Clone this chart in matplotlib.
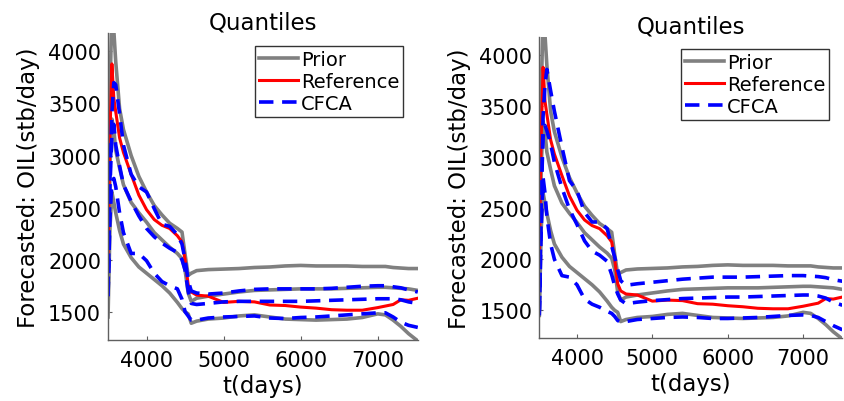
# Quantile forecasts of oil rate: prior, reference and CFCA

import matplotlib
matplotlib.use("Agg")
import matplotlib.pyplot as plt

t = [3500, 3525, 3550, 3575, 3600, 3650, 3700, 3800, 3900, 4000,
     4100, 4200, 4300, 4400, 4460, 4500, 4540, 4580, 4650, 4800,
     5000, 5200, 5400, 5600, 5800, 6000, 6200, 6400, 6600, 6800,
     7000, 7100, 7200, 7300, 7400, 7520]

prior_p90 = [1800, 3600, 4400, 4200, 3900, 3450, 3250, 3000, 2800, 2650,
             2520, 2430, 2350, 2300, 2265, 2050, 1850, 1870, 1895, 1905,
             1910, 1915, 1925, 1930, 1940, 1945, 1940, 1940, 1940, 1935,
             1935, 1935, 1925, 1920, 1915, 1915]
prior_p50 = [1600, 2900, 3350, 3250, 3050, 2880, 2720, 2550, 2450, 2360,
             2260, 2190, 2120, 2060, 2010, 1900, 1680, 1600, 1630, 1650,
             1670, 1690, 1705, 1710, 1715, 1720, 1720, 1720, 1725, 1730,
             1735, 1735, 1730, 1725, 1720, 1705]
prior_p10 = [1450, 2300, 2650, 2550, 2450, 2280, 2150, 2020, 1930, 1870,
             1810, 1750, 1680, 1590, 1530, 1500, 1480, 1390, 1410, 1430,
             1440, 1460, 1470, 1450, 1430, 1425, 1420, 1425, 1430, 1445,
             1480, 1470, 1420, 1360, 1290, 1220]

reference = [2000, 3200, 3880, 3550, 3420, 3170, 3030, 2820, 2620, 2480,
             2385, 2330, 2300, 2230, 2170, 2000, 1760, 1690, 1660, 1650,
             1590, 1600, 1595, 1565, 1560, 1545, 1535, 1520, 1515, 1515,
             1540, 1555, 1570, 1615, 1610, 1630]

cfca_left_hi = [1650, 2800, 3400, 3700, 3680, 3400, 3100, 2820, 2700, 2650,
                2490, 2340, 2320, 2240, 2150, 2000, 1800, 1700, 1680, 1670,
                1680, 1700, 1715, 1720, 1720, 1720, 1720, 1725, 1735, 1745,
                1750, 1750, 1740, 1730, 1710, 1690]
cfca_left_mid = [1700, 2700, 3200, 3300, 3100, 2900, 2720, 2560, 2420, 2300,
                 2220, 2160, 2110, 2070, 2000, 1900, 1700, 1580, 1570, 1580,
                 1595, 1600, 1600, 1600, 1600, 1600, 1605, 1610, 1615, 1620,
                 1625, 1625, 1625, 1615, 1595, 1580]
cfca_left_lo = [1650, 2400, 2750, 2780, 2700, 2450, 2260, 2060, 2060, 1990,
                1870, 1790, 1750, 1720, 1620, 1500, 1460, 1420, 1420, 1440,
                1450, 1455, 1460, 1440, 1435, 1445, 1450, 1460, 1470, 1480,
                1490, 1490, 1450, 1400, 1370, 1350]

cfca_right_hi = [1500, 2600, 3400, 3700, 3860, 3650, 3450, 3100, 2770, 2670,
                 2460, 2365, 2365, 2300, 2130, 2020, 1900, 1790, 1745, 1760,
                 1775, 1790, 1805, 1815, 1825, 1825, 1825, 1830, 1835, 1840,
                 1840, 1835, 1830, 1820, 1800, 1785]
cfca_right_mid = [1500, 2600, 3200, 3310, 3260, 3130, 2950, 2700, 2490, 2340,
                  2180, 2080, 2040, 1980, 1850, 1740, 1660, 1600, 1565, 1580,
                  1595, 1605, 1615, 1620, 1625, 1630, 1630, 1635, 1640, 1645,
                  1650, 1650, 1640, 1620, 1580, 1550]
cfca_right_lo = [1450, 2300, 2800, 2650, 2420, 2150, 2000, 1840, 1825, 1750,
                 1610, 1560, 1530, 1490, 1470, 1440, 1400, 1385, 1390, 1410,
                 1420, 1430, 1435, 1430, 1420, 1420, 1425, 1430, 1440, 1450,
                 1455, 1450, 1430, 1390, 1350, 1310]

xticks = [4000, 5000, 6000, 7000]
yticks = [1500, 2000, 2500, 3000, 3500, 4000]

GRAY = "#808080"
RED = "#ff0000"
BLUE = "#0000ff"
AXIS = "#606060"


def draw_panel(ax, cfca):
    for i, q in enumerate([prior_p90, prior_p50, prior_p10]):
        ax.plot(t, q, c=GRAY, lw=2.6, label="Prior" if i == 0 else None)
    ax.plot(t, reference, c=RED, lw=2.2, label="Reference")
    for i, q in enumerate(cfca):
        ax.plot(t, q, c=BLUE, lw=2.6, ls=(0, (4, 2.4)),
                label="CFCA" if i == 0 else None)

    ax.set_xlim(3500, 7520)
    ax.set_ylim(1230, 4175)
    ax.set_xticks(xticks)
    ax.set_yticks(yticks)
    ax.set_title("Quantiles", fontsize=16.5, pad=2)
    ax.set_xlabel("t(days)", fontsize=16.5, labelpad=3)
    ax.set_ylabel("Forecasted: OIL(stb/day)", fontsize=16.5, labelpad=6)
    ax.tick_params(direction="in", length=3, labelsize=15, color=AXIS)
    ax.tick_params(axis="x", pad=7)
    ax.tick_params(axis="y", pad=5)
    for side in ["top", "right"]:
        ax.spines[side].set_visible(False)
    for side in ["left", "bottom"]:
        ax.spines[side].set_color(AXIS)
        ax.spines[side].set_linewidth(1.0)


def main():
    fig = plt.figure(figsize=(8.44, 4.02), dpi=100)
    ax1 = fig.add_axes([0.128, 0.152, 0.367, 0.763])
    ax2 = fig.add_axes([0.639, 0.157, 0.359, 0.748])

    draw_panel(ax1, [cfca_left_hi, cfca_left_mid, cfca_left_lo])
    draw_panel(ax2, [cfca_right_hi, cfca_right_mid, cfca_right_lo])

    for ax, anchor in [(ax1, (0.952, 0.958)), (ax2, (0.957, 0.96))]:
        leg = ax.legend(loc="upper right", bbox_to_anchor=anchor,
                        borderaxespad=0, fontsize=14, handlelength=2.0,
                        handletextpad=0.15, labelspacing=0.15,
                        borderpad=0.2, fancybox=False, framealpha=1)
        leg.get_frame().set_edgecolor("#333333")
        leg.get_frame().set_linewidth(1.0)

    fig.savefig("out.png", dpi=100)


if __name__ == "__main__":
    main()
